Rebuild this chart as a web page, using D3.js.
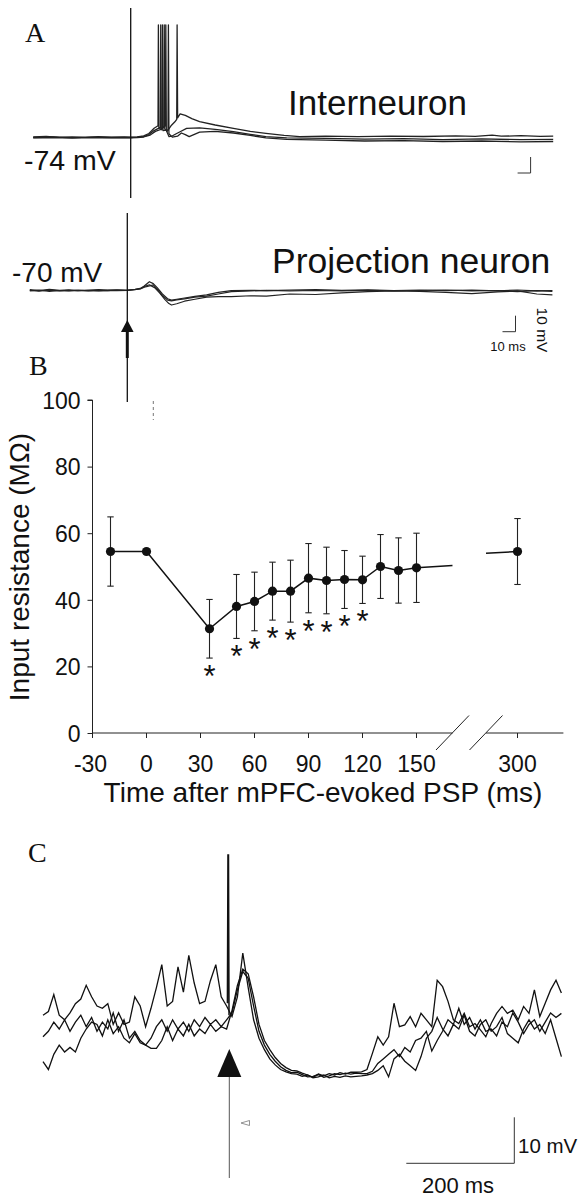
<!DOCTYPE html>
<html><head><meta charset="utf-8">
<script src="https://cdn.jsdelivr.net/npm/d3@7"></script>
<style>body{margin:0;background:#fff}svg{display:block}</style>
</head><body>
<svg id="fig" width="582" height="1200"></svg>
<script>
// ---------------- DATA ----------------
// Panel A: interneuron sweeps [ms after stimulus, mV]
const interneuron1 = [[-75,-74],[-65,-73.7],[-55,-74.2],[-45,-73.9],[-35,-74.2],[-25,-73.8],[-15,-74.1],[-5,-73.9],[0,-74.1],[5,-74],[10,-73.3],[14,-71.8],[18,-68.5],[21,-67],[21.3,-4],[21.7,-68],[23.5,-69.5],[25.5,-67.5],[25.8,-4],[26.2,-69],[28,-70.5],[31,-67],[34,-64.5],[35.4,-63],[35.7,-4],[36.1,-62],[38,-59.5],[42,-60.5],[47,-62.5],[53,-64.4],[65,-66.5],[79,-68.6],[92,-70.5],[104,-71.7],[118,-73],[130,-73.8],[150,-73.5],[175,-73.8],[200,-73.4],[225,-73.7],[250,-73.3],[265,-73.6],[278,-72.8],[285,-73.5],[300,-73.2],[315,-73.6],[325,-73.4]];
const interneuron2 = [[-75,-74.3],[-60,-74],[-45,-74.4],[-30,-74.1],[-15,-74.3],[-5,-74.2],[0,-74.3],[5,-74.1],[10,-73.8],[14,-72.5],[18,-70],[22.8,-68],[23.1,-4],[23.5,-69],[26.7,-67],[27,-4],[27.4,-70],[29.5,-73.8],[31.5,-73.5],[35,-72],[38,-70.7],[43,-68.6],[53,-68.3],[65,-69.2],[79,-70.7],[92,-72.3],[104,-73.8],[120,-74.5],[150,-74.8],[180,-75.3],[210,-75],[240,-75.6],[270,-75.2],[300,-75.7],[325,-75.5]];
const interneuron3 = [[-75,-74.6],[-60,-74.3],[-45,-74.7],[-30,-74.4],[-15,-74.6],[-5,-74.5],[0,-74.6],[5,-74.4],[10,-74],[15,-72.8],[19,-70.5],[24.1,-69],[24.4,-4],[24.8,-70],[28.7,-69.5],[29,-4],[29.4,-72],[32,-74.1],[36,-73.5],[39,-71.5],[42,-72.5],[45,-73.8],[53,-71],[65,-70.5],[79,-71.5],[92,-73],[104,-74.5],[120,-75.5],[150,-76],[180,-76.5],[210,-76.3],[240,-76.8],[270,-76.5],[300,-77],[325,-76.8]];
// Panel A: projection neuron sweeps
const projection1 = [[-75,-69.8],[-68,-70.4],[-60,-69.6],[-52,-70.2],[-45,-69.9],[-38,-70.3],[-30,-70],[-22,-69.7],[-15,-70.1],[-8,-69.9],[0,-70],[6,-69.6],[10,-69],[13,-67.5],[17,-64.8],[20,-66],[23,-68.5],[27,-72.5],[31,-75.5],[34,-76.3],[38,-75.8],[44,-75],[52,-74],[61,-73],[70,-71.5],[80,-70.4],[95,-70.2],[107,-70.4],[125,-70],[145,-69.8],[165,-70.2],[185,-69.9],[205,-70.3],[225,-70],[245,-70.4],[265,-70.1],[285,-70.5],[300,-70],[315,-70.6],[327,-70.3]];
const projection2 = [[-75,-70.5],[-68,-70],[-60,-70.8],[-52,-70.3],[-45,-70.6],[-38,-70.1],[-30,-70.5],[-22,-70.2],[-15,-70.4],[-8,-70],[0,-70.3],[6,-69.8],[10,-69.2],[14,-67.5],[17,-66.8],[21,-68.5],[25,-72],[29,-76],[32,-78.5],[34,-79.4],[38,-78.6],[44,-77],[52,-75.8],[61,-74.5],[70,-74.2],[80,-74.2],[95,-73.6],[107,-73.8],[125,-72.5],[145,-72.8],[165,-71.8],[185,-71],[205,-70.6],[225,-70.8],[245,-71.5],[265,-72.3],[285,-71.2],[300,-70.6],[315,-72.5],[327,-73]];
const projection3 = [[-75,-70.2],[-68,-70.7],[-60,-70.1],[-52,-70.5],[-45,-70.2],[-38,-70.6],[-30,-70.3],[-22,-70.5],[-15,-70.2],[-8,-70.4],[0,-70.2],[6,-69.7],[10,-69.3],[14,-68],[17,-67.5],[20,-66.8],[23,-69.5],[27,-73.5],[31,-76.3],[34,-76.8],[38,-76.2],[44,-75.5],[52,-74.5],[61,-73.8],[70,-72.5],[80,-71],[95,-70.6],[107,-70.2],[125,-70.5],[145,-70.3],[165,-70.6],[185,-70.2],[205,-70.5],[225,-70.3],[245,-70],[265,-70.6],[285,-70.3],[300,-71],[315,-70.4],[327,-70.9]];

// Panel B: input resistance (MOhm) vs time after PSP (ms)
const timesB = [-20,0,35,50,60,70,80,90,100,110,120,130,140,150,300];
const meanB  = [54.5,54.5,31.3,38,39.5,42.6,42.6,46.5,45.8,46.1,46,50,48.8,49.6,54.5];
const errB   = [10.4,0,8.8,9.6,8.8,8.7,9.3,10.4,10,8.7,7.1,9.6,9.8,10.4,9.9];
const signifB = [35,50,60,70,80,90,100,110,120];
const xTickB = [-30,0,30,60,90,120,150,300];
const yTickB = [0,20,40,60,80,100];
const stubLeftB = [[150,49.6],[170,50.3]];
const stubRightB = [[282.5,54.0],[300,54.5]];

// Panel C: three sweeps, ms after stimulus vs mV above hyperpolarized trough
const timesC = [-345,-335,-325,-315,-305,-295,-285,-275,-265,-255,-245,-235,-225,-215,-205,-195,-185,-175,-165,-155,-145,-135,-125,-115,-105,-95,-85,-75,-65,-55,-45,-35,-25,-15,-5,
5,15,25,35,45,55,65,75,85,95,105,115,
125,135,145,155,165,175,185,195,205,215,225,235,245,
255,265,275,285,295,305,315,325,335,345,355,365,375,385,395,405,415,425,435,445,455,465,475,485,495,505,515,525,535,545,555,565,575,585,595,605,615];
const sweepC1 = [13,13.8,17.5,13,12,13.5,15.5,16.5,19.5,17,15,14.5,15.5,11,13.5,11,11.5,17,15,10.5,14.5,19,24,15,16,23.5,18,26,20,15.5,16,20.5,24,17,15,
12.7,17,26.5,19,12,8,5.5,3.5,2.2,1.2,0.7,0.3,
0.2,-0.3,0,-0.5,0.2,-0.2,0.3,0,0.5,0.2,0.6,0.6,0.7,
1.2,4.7,8.3,6.5,8.3,15.6,10.5,10.9,12.7,10.5,13.4,12,10.5,20.6,19.2,16,12,11.2,13.4,10.5,11.2,9.8,8.3,11.2,13.4,14.9,13.4,14.1,12,14.9,13.4,18.5,12.7,15.6,18.5,20.6,17.8];
const sweepC2 = [8.3,9.5,11.5,10,12,9.5,11.5,13,10.5,12.5,9.5,11.5,10,13.5,9.5,12,8,9.5,7.5,6.5,8,10.5,12,9.5,12,10,11.5,9.5,12,10.5,12.5,11,12,10.5,12,
13.5,18.5,22.5,21,15,9.5,6.5,4.5,3,1.8,1,0.5,
0.6,0.1,-0.4,-0.3,0.1,-0.5,-0.2,0.3,0.1,0.4,0.2,0.4,0.3,
0.3,0.8,2.5,3.5,4.5,5.5,4,6,5,7.5,8,9.5,5.2,7.5,9.5,12,11,14.5,11,12.5,10,12,9.5,10,8.5,11.5,10.5,13.5,11.5,9,11,12,9.5,11.5,13.5,12.5,13.4];
const sweepC3 = [2.9,1.2,4.5,6.5,5,6,5,8,10,11.5,11,8.5,12,9,10.5,8,7,9,7,6.5,5.8,5.8,7.5,10.5,7.5,10,8.5,11,8.5,10,9,11,9.5,10.5,10,
14,19.5,23,22,17,11,7.5,5.5,3.8,2.5,1.6,1.0,
0.9,0.4,0,-0.6,-0.4,0,-0.6,-0.3,-0.5,-0.2,-0.4,-0.3,-0.2,
0,0.3,1,2,-0.4,3.5,4.5,3,2,1,4,8,9.5,12.5,10,8.5,11,10,13,9.5,8.5,11,12,9.5,10.5,12.5,9,8,7,10,12,10,11,9,12,8,4];
const spikeC = [[-3.5,15.6],[-2.5,47.8],[-1.5,47.8],[-0.5,13]];

// ---------------- DRAWING ----------------
const svg = d3.select("#fig");
const SANS = "'Liberation Sans', Arial, sans-serif";
const SERIF = "'Liberation Serif', 'Times New Roman', serif";
const ink = "#111";

function label(txt, x, y, size, opts = {}) {
  const t = svg.append("text").attr("x", x).attr("y", y).text(txt)
    .attr("font-family", opts.family || SANS).attr("font-size", size)
    .attr("fill", ink).attr("text-anchor", opts.anchor || "start");
  if (opts.rotate !== undefined) t.attr("transform", `rotate(${opts.rotate},${x},${y})`);
  return t;
}

// ===== Panel A =====
const xA1 = d3.scaleLinear().domain([0, 10]).range([130.7, 143.7]);
const yA1 = d3.scaleLinear().domain([-74, -64]).range([137, 121]);
const xA2 = d3.scaleLinear().domain([0, 10]).range([127.3, 140.3]);
const yA2 = d3.scaleLinear().domain([-70, -60]).range([290, 274]);

const lineA1 = d3.line().x(d => xA1(d[0])).y(d => yA1(d[1]));
const lineA2 = d3.line().x(d => xA2(d[0])).y(d => yA2(d[1]));

[interneuron3, interneuron2, interneuron1].forEach(s =>
  svg.append("path").attr("d", lineA1(s)).attr("fill", "none")
    .attr("stroke", "#222").attr("stroke-width", 1.3).attr("stroke-linejoin", "round"));
[projection2, projection3, projection1].forEach(s =>
  svg.append("path").attr("d", lineA2(s)).attr("fill", "none")
    .attr("stroke", "#222").attr("stroke-width", 1.2).attr("stroke-linejoin", "round"));

// stimulus artifacts
svg.append("line").attr("x1", xA1(0)).attr("x2", xA1(0)).attr("y1", 8).attr("y2", 198)
  .attr("stroke", ink).attr("stroke-width", 1.3);
svg.append("line").attr("x1", xA2(0)).attr("x2", xA2(0)).attr("y1", 213).attr("y2", 402)
  .attr("stroke", ink).attr("stroke-width", 1.3);
// arrow in A
svg.append("path").attr("d", `M${xA2(0)},320 L${xA2(0) - 6.3},332 L${xA2(0) + 6.3},332 Z`).attr("fill", ink);
svg.append("line").attr("x1", xA2(0)).attr("x2", xA2(0)).attr("y1", 331).attr("y2", 358)
  .attr("stroke", ink).attr("stroke-width", 3);

// scale bars A (10 mV, 10 ms)
const mv10 = yA1(-74) - yA1(-64), ms10 = xA1(10) - xA1(0);
svg.append("path").attr("d", `M${530.6 - ms10},173 H530.6 V${173 - mv10}`)
  .attr("fill", "none").attr("stroke", "#333").attr("stroke-width", 1);
svg.append("path").attr("d", `M${515.5 - ms10},331.7 H515.5 V${331.7 - mv10}`)
  .attr("fill", "none").attr("stroke", "#333").attr("stroke-width", 1);
label("10 ms", 508, 351, 13, {anchor: "middle"});
label("10 mV", 537, 330, 15.5, {anchor: "middle", rotate: 90});

label("A", 25, 42, 28, {family: SERIF});
label("Interneuron", 288, 115, 35);
label("-74 mV", 24, 170, 28.5);
label("Projection neuron", 272, 273, 35.5);
label("-70 mV", 12, 282, 28);

// ===== Panel B =====
const xBL = d3.scaleLinear().domain([-30, 170]).range([92.5, 452.5]);
const xBR = d3.scaleLinear().domain([282.5, 325.5]).range([486, 563.4]);
const xB = t => (t <= 170 ? xBL(t) : xBR(t));
const yB = d3.scaleLinear().domain([0, 100]).range([733, 400]);
const axisY = 733;

// y axis
svg.append("g").attr("transform", `translate(${xBL(-30)},0)`)
  .call(d3.axisLeft(yB).tickValues(yTickB).tickSize(5).tickPadding(3).tickFormat(d3.format("d")))
  .call(g => {
    g.selectAll("path,line").attr("stroke", "#222").attr("stroke-width", 1);
    g.select(".domain").attr("d", `M-5,${yB(100)}H0V${yB(0)}`);
    g.selectAll("text").attr("font-family", SANS).attr("font-size", 23).attr("fill", ink)
      .attr("dy", "0.36em").attr("x", -12);
  });

// x axis: two segments with break
const gx = svg.append("g").attr("transform", `translate(0,${axisY})`);
gx.append("line").attr("x1", xBL(-30)).attr("x2", xBL(170)).attr("stroke", "#222");
gx.append("line").attr("x1", xBR(282.5)).attr("x2", xBR(325.5)).attr("stroke", "#222");
xTickB.forEach(t => {
  gx.append("line").attr("x1", xB(t)).attr("x2", xB(t)).attr("y1", 0).attr("y2", 5).attr("stroke", "#222");
  gx.append("text").attr("x", xB(t) + (t < 0 ? -2 : 0)).attr("y", 39).text(t)
    .attr("text-anchor", "middle").attr("font-family", SANS).attr("font-size", 23).attr("fill", ink);
});
// break slashes
[xBL(170), xBR(282.5)].forEach(cx => {
  gx.append("line").attr("x1", cx - 16.5).attr("y1", 17).attr("x2", cx + 16.5).attr("y2", -17.5)
    .attr("stroke", "#222").attr("stroke-width", 1);
});

// faint artifact mark
svg.append("line").attr("x1", 153.3).attr("x2", 153.3).attr("y1", 401).attr("y2", 420)
  .attr("stroke", "#666").attr("stroke-width", 0.9).attr("stroke-dasharray", "3,3");

// axis titles
label("Time after mPFC-evoked PSP (ms)", 323, 802, 28, {anchor: "middle"});
label("Input resistance (MΩ)", 29, 567, 28, {anchor: "middle", rotate: -90});
label("B", 29, 375, 28, {family: SERIF});

// error bars
timesB.forEach((t, i) => {
  if (errB[i] <= 0) return;
  const x = xB(t), y1 = yB(meanB[i] + errB[i]), y2 = yB(meanB[i] - errB[i]);
  svg.append("line").attr("x1", x).attr("x2", x).attr("y1", y1).attr("y2", y2).attr("stroke", "#222").attr("stroke-width", 1.1);
  [y1, y2].forEach(y => svg.append("line").attr("x1", x - 3.2).attr("x2", x + 3.2).attr("y1", y).attr("y2", y)
    .attr("stroke", "#222").attr("stroke-width", 1.1));
});
// connecting line
const lineB = d3.line().x(d => xB(d[0])).y(d => yB(d[1]));
const mainPts = timesB.map((t, i) => [t, meanB[i]]).filter(d => d[0] <= 150);
svg.append("path").attr("d", lineB(mainPts)).attr("fill", "none").attr("stroke", ink).attr("stroke-width", 1.5);
svg.append("path").attr("d", lineB(stubLeftB)).attr("fill", "none").attr("stroke", ink).attr("stroke-width", 1.5);
svg.append("path").attr("d", lineB(stubRightB)).attr("fill", "none").attr("stroke", ink).attr("stroke-width", 1.5);
// markers
svg.selectAll("circle.pt").data(timesB.map((t, i) => [t, meanB[i]])).enter().append("circle")
  .attr("cx", d => xB(d[0])).attr("cy", d => yB(d[1])).attr("r", 4.6).attr("fill", ink);
// significance asterisks
signifB.forEach(t => {
  const i = timesB.indexOf(t);
  svg.append("text").attr("x", xB(t)).attr("y", yB(meanB[i] - errB[i]) + 29).text("*")
    .attr("text-anchor", "middle").attr("font-family", SANS).attr("font-size", 31).attr("fill", ink);
});

// ===== Panel C =====
const xC = d3.scaleLinear().domain([0, 200]).range([229.3, 337.3]);
const yC = d3.scaleLinear().domain([0, 10]).range([1075, 1029]);
const lineC = d3.line().x(d => xC(d[0])).y(d => yC(d[1]));
[sweepC3, sweepC2, sweepC1].forEach(s =>
  svg.append("path").attr("d", lineC(timesC.map((t, i) => [t, s[i]]))).attr("fill", "none")
    .attr("stroke", ink).attr("stroke-width", 1.3).attr("stroke-linejoin", "miter"));
svg.append("path").attr("d", lineC(spikeC)).attr("fill", "none").attr("stroke", ink).attr("stroke-width", 1.5);

// arrow C
const ax = xC(0);
svg.append("line").attr("x1", ax).attr("x2", ax).attr("y1", 1076).attr("y2", 1178).attr("stroke", "#555").attr("stroke-width", 1);
svg.append("path").attr("d", `M${ax},1049 L${ax - 12},1077 L${ax + 12},1077 Z`).attr("fill", ink);
svg.append("path").attr("d", "M241,1123 L249.5,1120.5 L249.5,1125.5 Z").attr("fill", "none").attr("stroke", "#777").attr("stroke-width", 0.8);

// scale bar C
const cx0 = 514.3, cy0 = 1163.3;
svg.append("path").attr("d", `M${cx0 - (xC(200) - xC(0))},${cy0} H${cx0} V${cy0 - (yC(0) - yC(10))}`)
  .attr("fill", "none").attr("stroke", "#333").attr("stroke-width", 1);
label("10 mV", 518, 1153, 20.5);
label("200 ms", 458, 1193, 22, {anchor: "middle"});
label("C", 28, 862, 28, {family: SERIF});
</script>
</body></html>
